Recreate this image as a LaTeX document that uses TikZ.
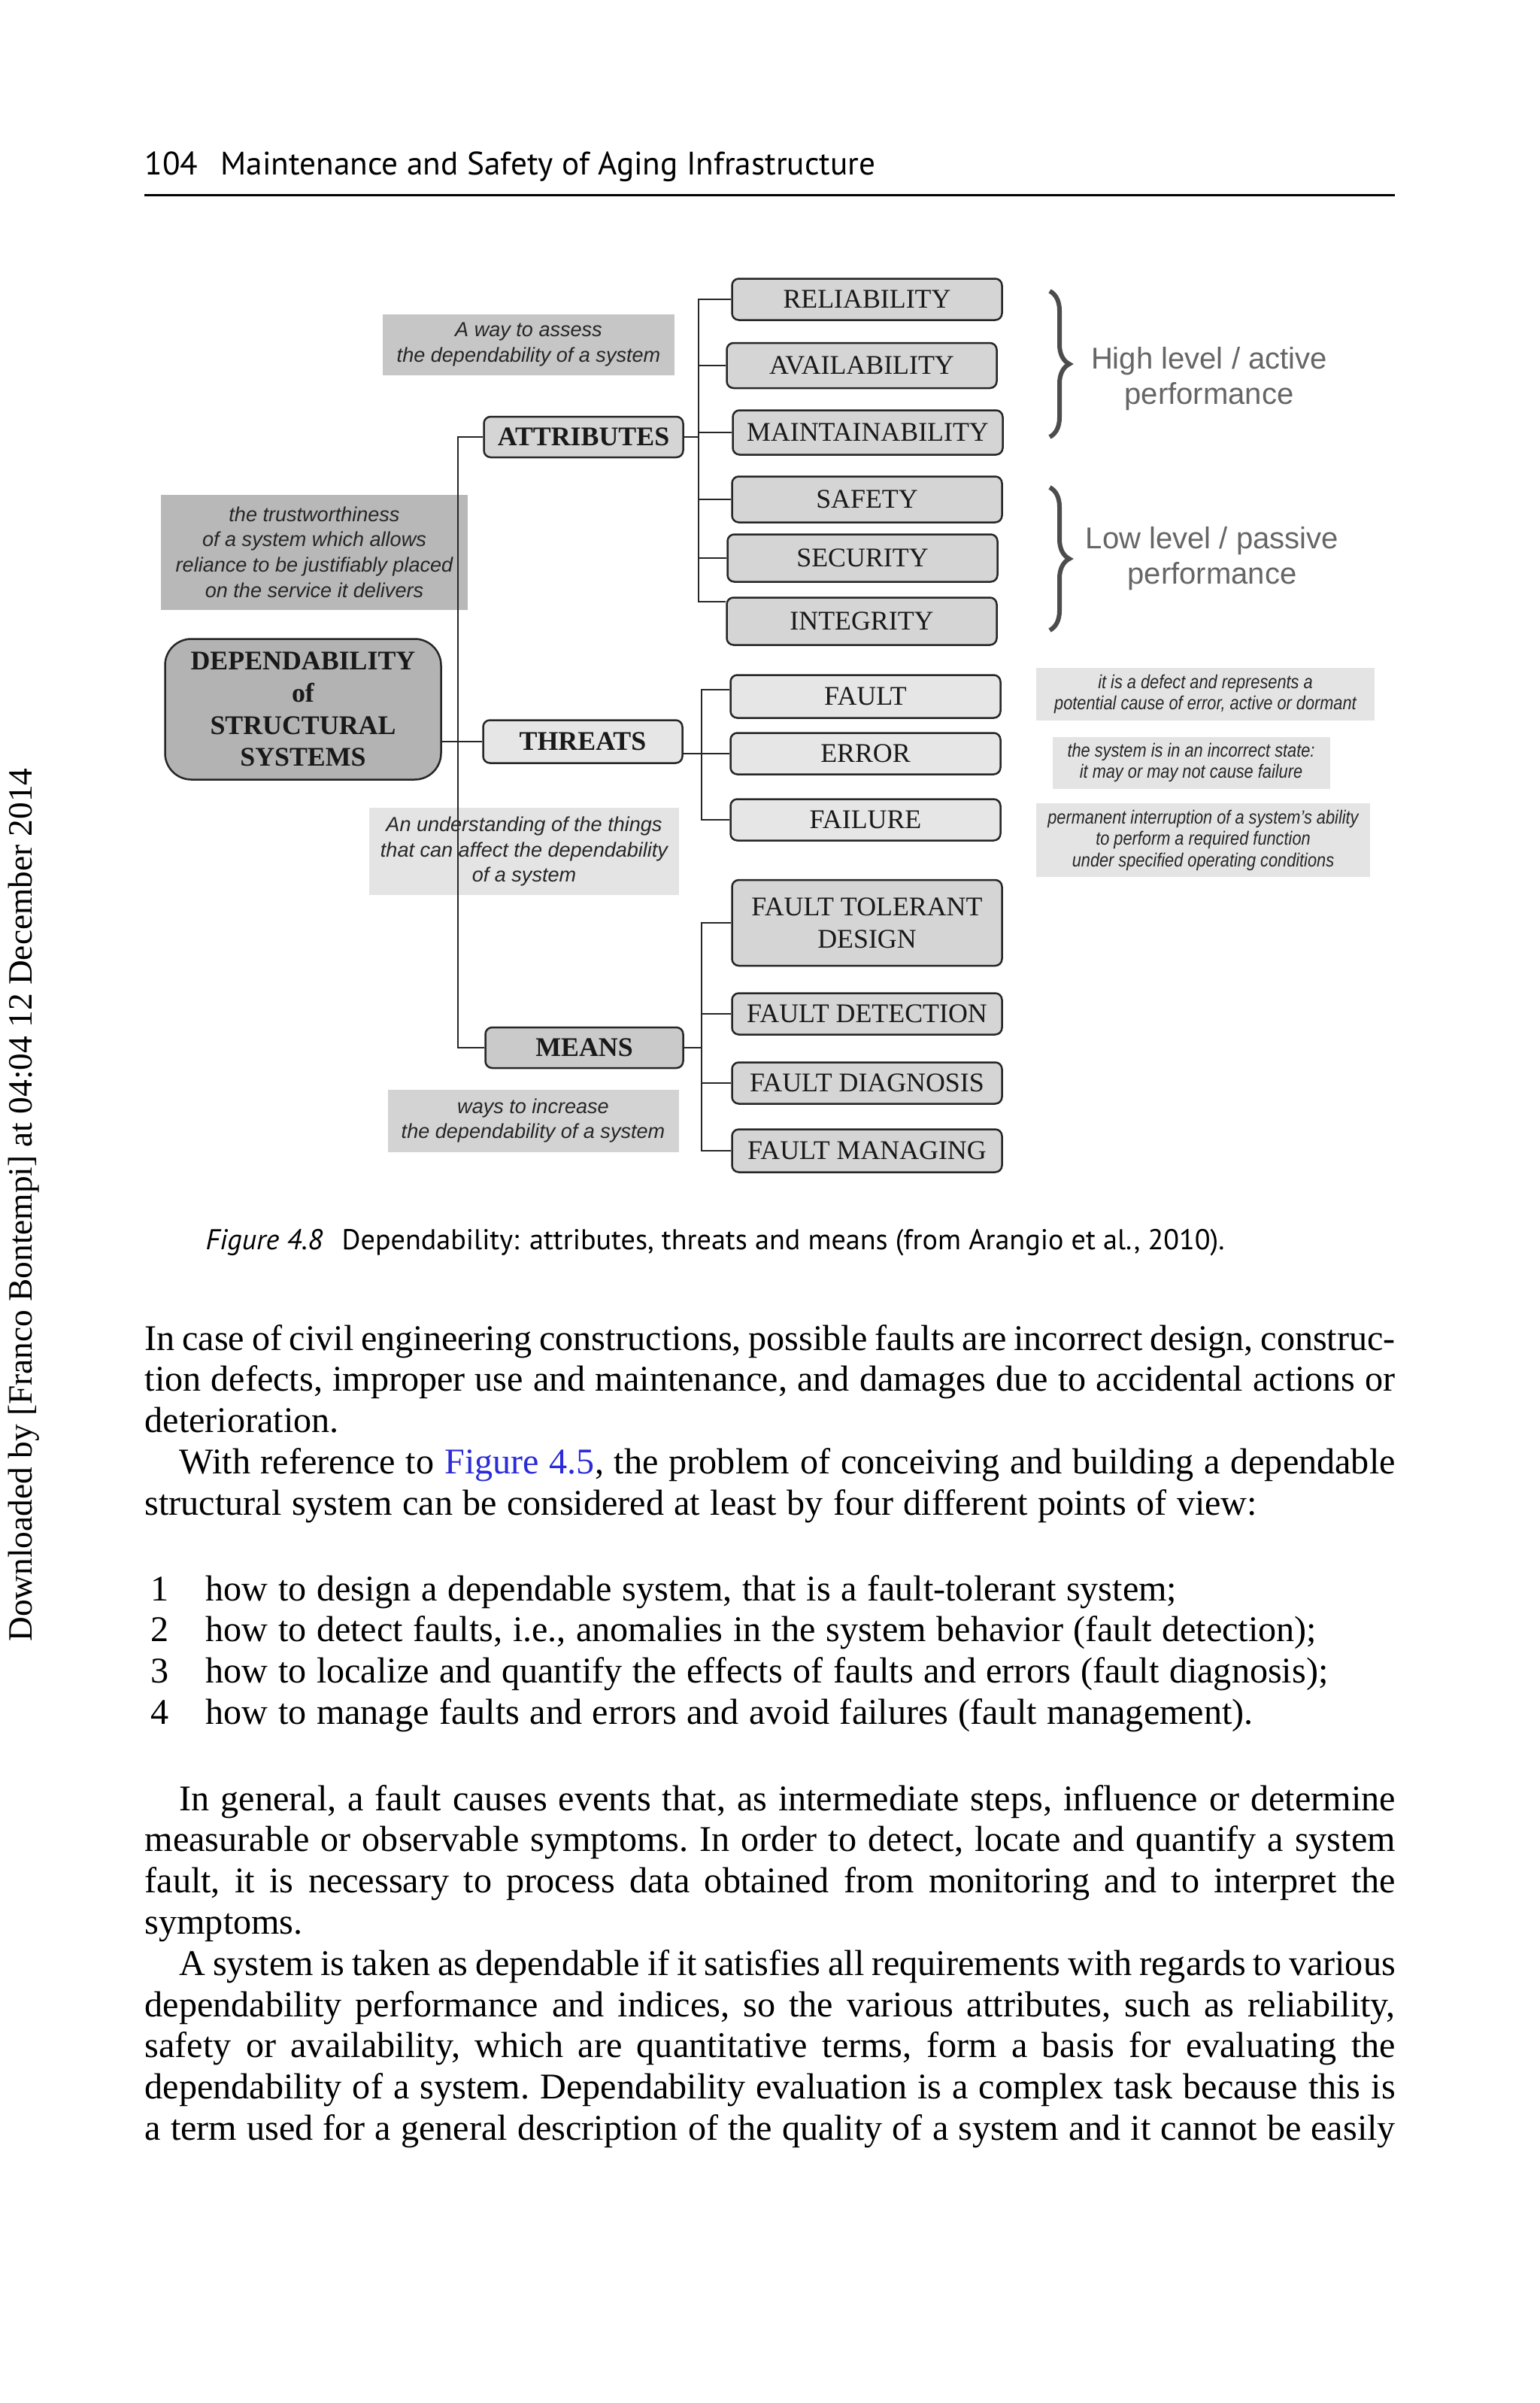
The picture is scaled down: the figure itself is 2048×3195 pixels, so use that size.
\documentclass[tikz,border=0pt]{standalone}
\usepackage{fontspec}
\setmainfont{Liberation Serif}
\newfontfamily\headsans{PT Sans}
\newfontfamily\notesans{Liberation Sans}
\newfontfamily\narrowsans[FakeStretch=0.86]{Liberation Sans}
\usetikzlibrary{positioning, calc, decorations.pathreplacing}

\definecolor{depgray}{HTML}{B3B3B3}
\definecolor{boxgray}{HTML}{D5D5D5}
\definecolor{lightbox}{HTML}{E6E6E6}
\definecolor{notedark}{HTML}{C6C6C6}
\definecolor{notedarker}{HTML}{B8B8B8}
\definecolor{notelight}{HTML}{E4E4E4}
\definecolor{notemid}{HTML}{D3D3D3}
\definecolor{linkblue}{HTML}{2B2BD9}

\newcommand{\wsp}{\frenchspacing\spaceskip=0.28em plus 0.2em minus 0.1em\relax\xspaceskip=0pt\relax}
\newcommand{\jline}[1]{\leavevmode\hbox to 166.3mm{\wsp#1}}

\begin{document}
\begin{tikzpicture}[x=0.1mm, y=-0.1mm]
			% node styles
			\tikzstyle{box} = [draw=black!85, line width=0.25mm, rounded corners=0.9mm, fill=boxgray, text=black!90, font=\fontsize{10.2}{12.2}\selectfont, align=center, inner sep=0pt, minimum width=35.9mm, minimum height=5.5mm]
			\tikzstyle{head} = [box, font=\fontsize{10.2}{12.2}\selectfont\bfseries, minimum width=26.5mm, minimum height=5.4mm]
			\tikzstyle{note} = [fill=notelight, align=center, inner sep=0pt, text=black!85, font=\notesans\itshape\fontsize{7.7}{9.6}\selectfont]
			\tikzstyle{small note} = [note, font=\narrowsans\itshape\fontsize{7.2}{8.1}\selectfont]
			\tikzstyle{conn} = [draw=black!85, line width=0.2mm]
			\tikzstyle{brc} = [decorate, decoration={brace, amplitude=2.6mm}, line width=0.6mm, draw=black!70]
			\tikzstyle{perf} = [align=center, text=black!60, font=\notesans\fontsize{11.4}{13.4}\selectfont]
			\tikzstyle{body} = [anchor=base west, inner sep=0pt, align=left, text width=166.3mm, font=\fontsize{13.7}{15.6}\selectfont]
			\tikzstyle{plain} = [anchor=base west, inner sep=0pt]
			
			\fill[white] (0,0) rectangle (2048,3195);
			\useasboundingbox (0,0) rectangle (2048,3195);
			
			% running head
			\node[plain, font=\headsans\fontsize{12.3}{14}\selectfont] (pageno) at (192,232) {104};
			\node[plain, font=\headsans\fontsize{12.3}{14}\selectfont] (runhead) at (293,232) {Maintenance and Safety of Aging Infrastructure};
			\draw[line width=0.3mm] (192,259) -- (1855,259);
			\node[plain, rotate=90, anchor=base, font=\fontsize{12.9}{14}\selectfont] (dl) at (43,1602) {Downloaded by [Franco Bontempi] at 04:04 12 December 2014};
			
			% grey notes
			\node[note, fill=notedark, minimum width=38.8mm, minimum height=8.1mm] (assess) at (703,458) {A way to assess\\the dependability of a system};
			\node[note, fill=notedarker, minimum width=40.8mm, minimum height=15.3mm] (trust) at (418,734) {the trustworthiness\\of a system which allows\\reliance to be justifiably placed\\on the service it delivers};
			\node[note, minimum width=41.2mm, minimum height=11.6mm] (understand) at (697,1132) {An understanding of the things\\that can affect the dependability\\of a system};
			\node[note, fill=notemid, minimum width=38.7mm, minimum height=8.3mm] (increase) at (709,1490) {ways to increase\\the dependability of a system};
			\node[small note, minimum width=45mm, minimum height=7mm] (defect) at (1603,923) {it is a defect and represents a\\potential cause of error, active or dormant};
			\node[small note, minimum width=36.9mm, minimum height=6.9mm] (state) at (1584,1014) {the system is in an incorrect state:\\it may or may not cause failure};
			\node[small note, minimum width=44.4mm, minimum height=9.8mm] (interrupt) at (1600,1117) {permanent interruption of a system’s ability\\to perform a required function\\under specified operating conditions};
			
			% boxes
			\node[head, fill=depgray, rounded corners=3.5mm, minimum width=36.7mm, minimum height=18.7mm] (dep) at (403,943) {DEPENDABILITY\\of\\STRUCTURAL\\SYSTEMS};
			\node[head] (attr) at (776,581) {ATTRIBUTES};
			\node[head, fill=lightbox, minimum height=5.7mm] (threats) at (775,986) {THREATS};
			\node[head, fill=boxgray!95!black, minimum width=26.3mm] (means) at (777,1393) {MEANS};
			
			\node[box] (rel) at (1153,398) {RELIABILITY};
			\node[box, minimum height=6mm] (avail) at (1146,486) {AVAILABILITY};
			\node[box, minimum height=5.9mm] (maint) at (1154,575) {MAINTAINABILITY};
			\node[box, minimum height=6.1mm] (safety) at (1153,664) {SAFETY};
			\node[box, minimum height=6.3mm] (secur) at (1147,742) {SECURITY};
			\node[box, minimum height=6.3mm] (integ) at (1146,826) {INTEGRITY};
			
			\node[box, fill=lightbox, minimum height=5.7mm] (fault) at (1151,926) {FAULT};
			\node[box, fill=lightbox] (error) at (1151,1002) {ERROR};
			\node[box, fill=lightbox] (failure) at (1151,1090) {FAILURE};
			
			\node[box, minimum height=11.4mm] (ftd) at (1153,1227) {FAULT TOLERANT\\DESIGN};
			\node[box] (fdet) at (1153,1348) {FAULT DETECTION};
			\node[box] (fdiag) at (1153,1440) {FAULT DIAGNOSIS};
			\node[box, minimum height=5.7mm] (fman) at (1153,1530) {FAULT MANAGING};
			
			% braces
			\draw[brc] (1396,387) -- (1396,581);
			\draw[brc] (1396,648) -- (1396,838);
			\node[perf] (active) at (1608,504) {High level / active\\performance};
			\node[perf] (passive) at (1612,743) {Low level / passive\\performance};
			
			% lines
			\coordinate (lt) at (609,581);
			\coordinate (ab) at (929,581);
			\coordinate (tb) at (933,1002);
			\coordinate (mb) at (933,1393);
			\coordinate (itop) at ([yshift=2.6mm]integ.west);
			\coordinate (ftop) at ([yshift=0.9mm]fault.west);
			\draw[conn] (attr.west) -- (lt) |- (means.west);
			\draw[conn] (dep.east |- threats.west) -- (threats.west);
			
			\draw[conn] (attr.east) -- (ab);
			\draw[conn] (rel.west) -| (ab) |- (itop);
			\draw[conn] (avail.west) -- (avail.west -| ab);
			\draw[conn] (maint.west) -- (maint.west -| ab);
			\draw[conn] (safety.west) -- (safety.west -| ab);
			\draw[conn] (secur.west) -- (secur.west -| ab);
			
			\draw[conn] (ftop) -| (tb) |- (failure.west);
			\draw[conn] (threats.east |- error.west) -- (error.west);
			
			\draw[conn] (ftd.west) -| (mb) |- (fman.west);
			\draw[conn] (means.east) -- (mb);
			\draw[conn] (fdet.west) -- (fdet.west -| mb);
			\draw[conn] (fdiag.west) -- (fdiag.west -| mb);
			
			% caption and text
			\node[plain, font=\headsans\itshape\fontsize{10.85}{13}\selectfont] (figno) at (273,1661) {Figure 4.8};
			\node[plain, font=\headsans\fontsize{10.85}{13}\selectfont] (figcap) at (454,1661) {Dependability: attributes, threats and means (from Arangio et al., 2010).};
			
			\node[body] (paraA) at (192,1795) {\wsp\jline{In case of civil engineering constructions, possible faults are incorrect design, construc-}\\
				\jline{tion defects, improper use and maintenance, and damages due to accidental actions or}\\
				deterioration.\\
				\jline{\hspace*{4.6mm}With reference to \textcolor{linkblue}{Figure 4.5}, the problem of conceiving and building a dependable}\\
				structural system can be considered at least by four different points of view:};
			\node[body] (points) at (200,2128) {\wsp\makebox[7.3mm][l]{1}how to design a dependable system, that is a fault-tolerant system;\\
				\makebox[7.3mm][l]{2}how to detect faults, i.e., anomalies in the system behavior (fault detection);\\
				\makebox[7.3mm][l]{3}how to localize and quantify the effects of faults and errors (fault diagnosis);\\
				\makebox[7.3mm][l]{4}how to manage faults and errors and avoid failures (fault management).};
			\node[body] (paraB) at (192,2407) {\wsp\jline{\hspace*{4.6mm}In general, a fault causes events that, as intermediate steps, influence or determine}\\
				\jline{measurable or observable symptoms. In order to detect, locate and quantify a system}\\
				\jline{fault, it is necessary to process data obtained from monitoring and to interpret the}\\
				symptoms.\\
				\jline{\hspace*{4.6mm}A system is taken as dependable if it satisfies all requirements with regards to various}\\
				\jline{dependability performance and indices, so the various attributes, such as reliability,}\\
				\jline{safety or availability, which are quantitative terms, form a basis for evaluating the}\\
				\jline{dependability of a system. Dependability evaluation is a complex task because this is}\\
				\jline{a term used for a general description of the quality of a system and it cannot be easily}};
		\end{tikzpicture}
\end{document}
